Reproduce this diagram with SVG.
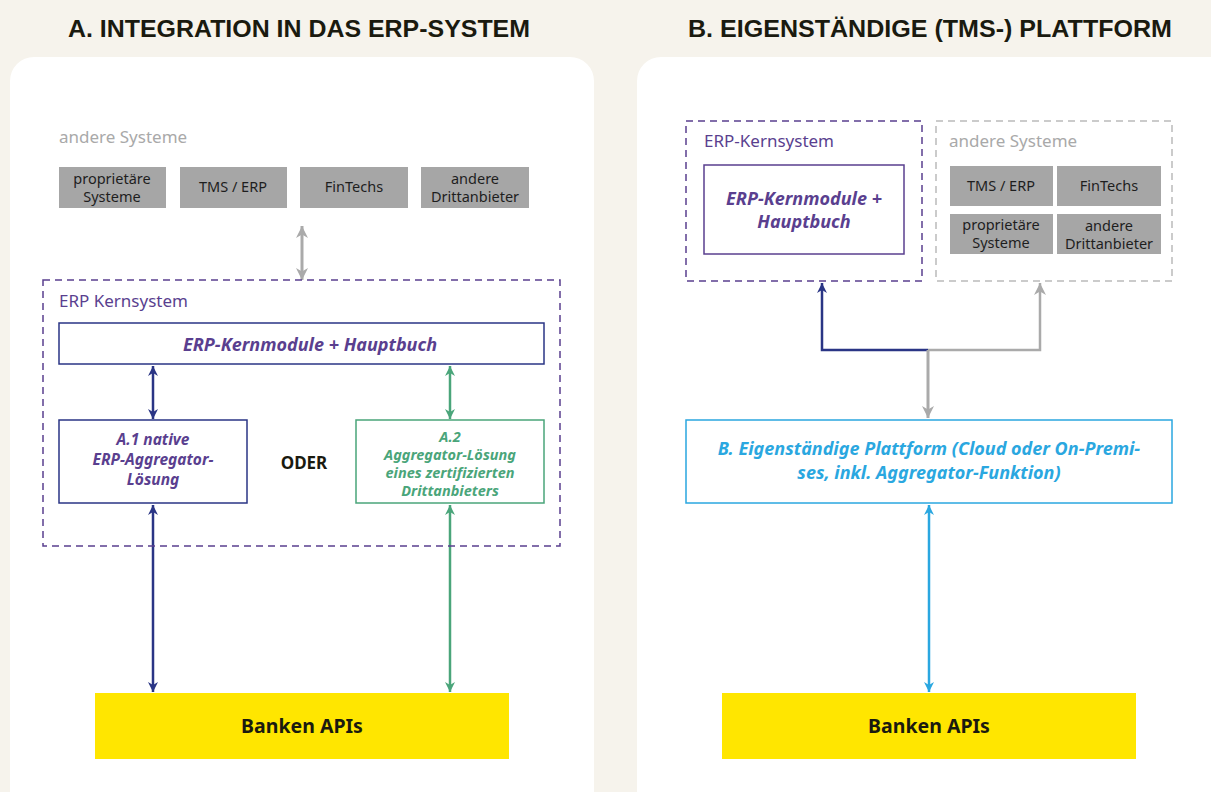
<svg xmlns="http://www.w3.org/2000/svg" width="1211" height="792" viewBox="0 0 1211 792">
<style>
text{font-family:"Noto Sans","Open Sans","Liberation Sans",sans-serif}
.title{font-family:"Liberation Sans",Arial,sans-serif;font-weight:bold;font-size:24px;fill:#1a1a0f}
.gray{font-size:17px;fill:#a9a9a9}
.purple{font-size:17px;fill:#5a3f8f}
.gbox{fill:#a6a6a6}
.gt{font-size:14.5px;fill:#1e1e1e;text-anchor:middle}
.bi{font-weight:bold;font-style:italic;text-anchor:middle}
.bank{fill:#ffe600}
.bankt{font-size:19.5px;font-weight:bold;fill:#1a1a0f;text-anchor:middle}
</style>
<defs>
<marker id="aB" viewBox="0 0 10 10" refX="10" refY="5" markerWidth="10" markerHeight="10" markerUnits="userSpaceOnUse" orient="auto-start-reverse"><path d="M0,0 L10,5 L0,10 L3,5 z" fill="#2a3585"/></marker>
<marker id="aG" viewBox="0 0 10 10" refX="10" refY="5" markerWidth="10" markerHeight="10" markerUnits="userSpaceOnUse" orient="auto-start-reverse"><path d="M0,0 L10,5 L0,10 L3,5 z" fill="#4aa57a"/></marker>
<marker id="aY" viewBox="0 0 10 10" refX="10" refY="5" markerWidth="12" markerHeight="12" markerUnits="userSpaceOnUse" orient="auto-start-reverse"><path d="M0,0 L10,5 L0,10 L3,5 z" fill="#aaaaaa"/></marker>
<marker id="aC" viewBox="0 0 10 10" refX="10" refY="5" markerWidth="10" markerHeight="10" markerUnits="userSpaceOnUse" orient="auto-start-reverse"><path d="M0,0 L10,5 L0,10 L3,5 z" fill="#2aa7e0"/></marker>
</defs>
<rect width="1211" height="792" fill="#f6f3ec"/>
<rect x="10" y="57" width="584" height="760" rx="24" fill="#ffffff"/>
<rect x="637" y="57" width="600" height="760" rx="24" fill="#ffffff"/>
<text class="title" x="299" y="37" text-anchor="middle" textLength="462" lengthAdjust="spacingAndGlyphs">A. INTEGRATION IN DAS ERP-SYSTEM</text>
<text class="title" x="930" y="37" text-anchor="middle" textLength="484" lengthAdjust="spacingAndGlyphs">B. EIGENSTÄNDIGE (TMS-) PLATTFORM</text>

<g id="connectors" fill="none" stroke-width="2.5">
<line x1="302" y1="226" x2="302" y2="280" stroke="#aaaaaa" stroke-width="3" marker-start="url(#aY)" marker-end="url(#aY)"/>
<line x1="153" y1="366" x2="153" y2="419" stroke="#2a3585" marker-start="url(#aB)" marker-end="url(#aB)"/>
<line x1="450" y1="366" x2="450" y2="419" stroke="#4aa57a" marker-start="url(#aG)" marker-end="url(#aG)"/>
<line x1="153" y1="505" x2="153" y2="692" stroke="#2a3585" marker-start="url(#aB)" marker-end="url(#aB)"/>
<line x1="450" y1="505" x2="450" y2="692" stroke="#4aa57a" marker-start="url(#aG)" marker-end="url(#aG)"/>
<polyline points="928,350 822,350 822,283" stroke="#2a3585" marker-end="url(#aB)"/>
<polyline points="928,350 1040,350 1040,283" stroke="#aaaaaa" marker-end="url(#aY)"/>
<line x1="928" y1="350" x2="928" y2="418" stroke="#aaaaaa" stroke-width="3" marker-end="url(#aY)"/>
<line x1="929" y1="505" x2="929" y2="692" stroke="#2aa7e0" marker-start="url(#aC)" marker-end="url(#aC)"/>
</g>

<g id="andere-systeme-a">
<text class="gray" x="59" y="143">andere Systeme</text>
<rect class="gbox" x="59" y="167" width="107" height="41"/>
<text class="gt" x="112" y="184">proprietäre</text><text class="gt" x="112" y="202">Systeme</text>
<rect class="gbox" x="180" y="167" width="107" height="41"/>
<text class="gt" x="233" y="192">TMS / ERP</text>
<rect class="gbox" x="300" y="167" width="108" height="41"/>
<text class="gt" x="354" y="192">FinTechs</text>
<rect class="gbox" x="421" y="167" width="108" height="41"/>
<text class="gt" x="475" y="184">andere</text><text class="gt" x="475" y="202">Drittanbieter</text>
</g>

<g id="erp-kernsystem-a">
<rect x="43" y="280" width="517" height="266" fill="none" stroke="#5a3f8f" stroke-width="1.5" stroke-dasharray="7,5"/>
<text class="purple" x="59" y="307">ERP Kernsystem</text>
</g>
<g id="kernmodule-a">
<rect x="59" y="323" width="485" height="41" fill="#fff" stroke="#2a3585" stroke-width="1.5"/>
<text class="bi" x="310" y="351" font-size="18" fill="#5a3f8f">ERP-Kernmodule + Hauptbuch</text>
</g>
<g id="a1">
<rect x="59" y="420" width="188" height="83" fill="#fff" stroke="#2a3585" stroke-width="1.5"/>
<text class="bi" x="153" y="445" font-size="15.5" fill="#5a3f8f">A.1 native</text>
<text class="bi" x="153" y="465" font-size="15.5" fill="#5a3f8f">ERP-Aggregator-</text>
<text class="bi" x="153" y="485" font-size="15.5" fill="#5a3f8f">Lösung</text>
</g>
<text x="304" y="469" font-size="17" font-weight="bold" fill="#1a1a0f" text-anchor="middle">ODER</text>
<g id="a2">
<rect x="356" y="420" width="188" height="83" fill="#fff" stroke="#4aa57a" stroke-width="1.5"/>
<text class="bi" x="450" y="442" font-size="14.5" fill="#4aa57a">A.2</text>
<text class="bi" x="450" y="460" font-size="14.5" fill="#4aa57a">Aggregator-Lösung</text>
<text class="bi" x="450" y="478" font-size="14.5" fill="#4aa57a">eines zertifizierten</text>
<text class="bi" x="450" y="496" font-size="14.5" fill="#4aa57a">Drittanbieters</text>
</g>
<g id="banken-a">
<rect class="bank" x="95" y="693" width="414" height="66"/>
<text class="bankt" x="302" y="733">Banken APIs</text>
</g>

<g id="erp-kernsystem-b">
<rect x="686" y="121" width="236" height="160" fill="none" stroke="#5a3f8f" stroke-width="1.5" stroke-dasharray="7,5"/>
<text class="purple" x="704" y="147">ERP-Kernsystem</text>
<rect x="704" y="165" width="200" height="89" fill="#fff" stroke="#5a3f8f" stroke-width="1.5"/>
<text class="bi" x="804" y="205" font-size="18" fill="#5a3f8f">ERP-Kernmodule +</text>
<text class="bi" x="804" y="228" font-size="18" fill="#5a3f8f">Hauptbuch</text>
</g>
<g id="andere-systeme-b">
<rect x="936" y="121" width="236" height="160" fill="none" stroke="#bbbbbb" stroke-width="1.5" stroke-dasharray="7,5"/>
<text class="gray" x="949" y="147">andere Systeme</text>
<rect class="gbox" x="950" y="166" width="103" height="40"/>
<text class="gt" x="1001" y="191">TMS / ERP</text>
<rect class="gbox" x="1057" y="166" width="104" height="40"/>
<text class="gt" x="1109" y="191">FinTechs</text>
<rect class="gbox" x="950" y="214" width="103" height="40"/>
<text class="gt" x="1001" y="230">proprietäre</text><text class="gt" x="1001" y="248">Systeme</text>
<rect class="gbox" x="1057" y="214" width="104" height="40"/>
<text class="gt" x="1109" y="231">andere</text><text class="gt" x="1109" y="249">Drittanbieter</text>
</g>
<g id="plattform-b">
<rect x="686" y="420" width="486" height="83" fill="#fff" stroke="#2aa7e0" stroke-width="1.5"/>
<text class="bi" x="929" y="455" font-size="18" fill="#2aa7e0">B. Eigenständige Plattform (Cloud oder On-Premi-</text>
<text class="bi" x="929" y="479" font-size="18" fill="#2aa7e0">ses, inkl. Aggregator-Funktion)</text>
</g>
<g id="banken-b">
<rect class="bank" x="722" y="693" width="414" height="66"/>
<text class="bankt" x="929" y="733">Banken APIs</text>
</g>
</svg>
